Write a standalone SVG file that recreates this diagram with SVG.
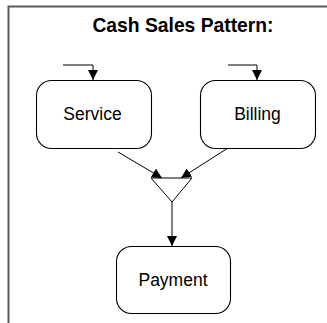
<svg xmlns="http://www.w3.org/2000/svg" width="327" height="323" viewBox="0 0 327 323">
  <style>
    .frame { fill: none; stroke: #5a5a5a; stroke-width: 2; }
    .box { fill: #ffffff; stroke: #000000; stroke-width: 1.1; }
    .label { font-family: "Liberation Sans", Arial, sans-serif; font-size: 17.5px; fill: #000000; text-anchor: middle; }
    .title { font-family: "Liberation Sans", Arial, sans-serif; font-size: 19.3px; font-weight: bold; fill: #000000; text-anchor: middle; }
    .edge { fill: none; stroke: #000000; stroke-width: 1; }
    .merge { fill: #ffffff; stroke: #000000; stroke-width: 1; }
  </style>
  <defs>
    <marker id="arrow" viewBox="0 0 10 10" refX="10" refY="5" markerWidth="10" markerHeight="10" markerUnits="userSpaceOnUse" orient="auto">
      <path d="M0,0 L10,5 L0,10 Z" fill="#000000"/>
    </marker>
  </defs>

  <rect width="327" height="323" fill="#ffffff"/>
  <!-- open frame: top and left edges only -->
  <path class="frame" d="M8.5,323 L8.5,6.5 L327,6.5"/>

  <text class="title" x="183" y="32">Cash Sales Pattern:</text>

  <g id="connectors">
    <path class="edge" d="M63,65 L93,65 L93,80" marker-end="url(#arrow)"/>
    <path class="edge" d="M228,65 L257,65 L257,80" marker-end="url(#arrow)"/>
    <path class="edge" d="M118,152 L162,178" marker-end="url(#arrow)"/>
    <path class="edge" d="M228,148 L181,178" marker-end="url(#arrow)"/>
    <path class="edge" d="M172,202 L172,246" marker-end="url(#arrow)"/>
  </g>

  <g id="service">
    <rect class="box" x="36.5" y="80.5" width="115" height="68" rx="15" ry="15"/>
    <text class="label" x="92.5" y="120">Service</text>
  </g>

  <g id="billing">
    <rect class="box" x="200.5" y="80.5" width="115" height="68" rx="15" ry="15"/>
    <text class="label" x="257.5" y="120">Billing</text>
  </g>

  <g id="merge">
    <path class="merge" d="M151,178 L192,178 L172,202 Z"/>
  </g>

  <g id="payment">
    <rect class="box" x="116.5" y="246.5" width="114" height="67" rx="15" ry="15"/>
    <text class="label" x="173" y="286">Payment</text>
  </g>
</svg>
